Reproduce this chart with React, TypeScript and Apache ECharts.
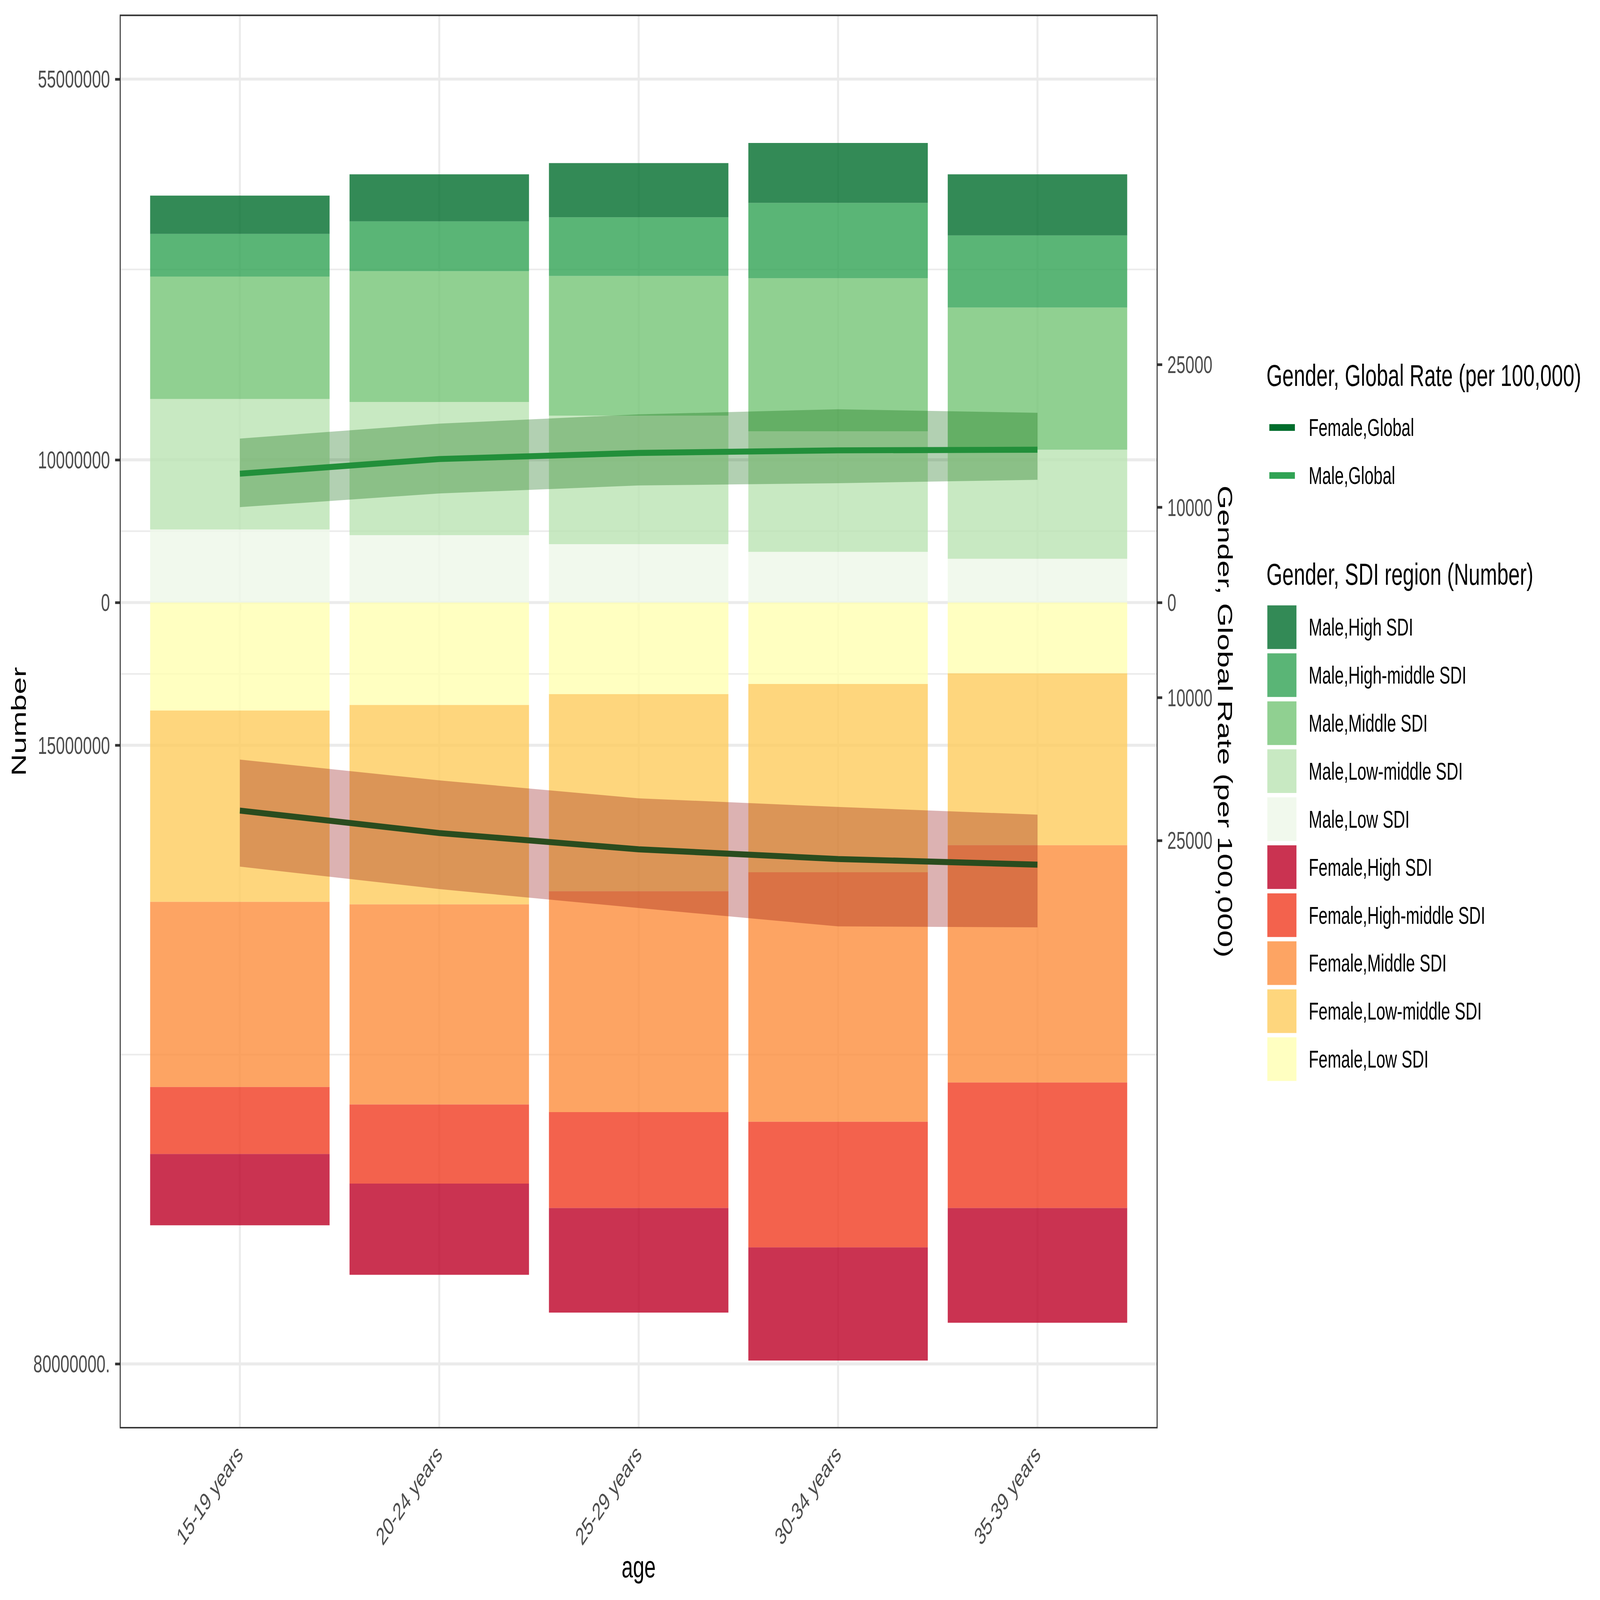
import React, { useEffect, useRef } from 'react';
import * as echarts from 'echarts';

// ---------- data ----------
const AGE_GROUPS = ['15-19 years', '20-24 years', '25-29 years', '30-34 years', '35-39 years'];

// Number of cases, in millions (males drawn upward, females downward)
const MALE_LOW = [7.68, 7.08, 6.14, 5.33, 4.6];
const MALE_LOW_MIDDLE = [13.7, 14.0, 13.5, 12.67, 11.46];
const MALE_MIDDLE = [12.87, 13.74, 14.67, 16.08, 14.94];
const MALE_HIGH_MIDDLE = [4.49, 5.23, 6.17, 7.91, 7.57];
const MALE_HIGH = [4.02, 4.95, 5.69, 6.3, 6.43];

const FEMALE_LOW = [11.35, 10.76, 9.63, 8.56, 7.44];
const FEMALE_LOW_MIDDLE = [20.1, 20.96, 20.7, 19.78, 18.06];
const FEMALE_MIDDLE = [19.46, 21.02, 23.21, 26.22, 24.93];
const FEMALE_HIGH_MIDDLE = [7.03, 8.31, 10.08, 13.19, 13.19];
const FEMALE_HIGH = [7.5, 9.59, 10.99, 11.9, 12.06];

// Global rate per 100,000 with uncertainty bounds
const MALE_RATE = [13540, 15080, 15720, 15990, 16060];
const MALE_RATE_LOWER = [10020, 11460, 12300, 12540, 12900];
const MALE_RATE_UPPER = [17230, 18800, 19770, 20310, 19940];
const FEMALE_RATE = [21860, 24220, 25930, 26950, 27540];
const FEMALE_RATE_LOWER = [16500, 18690, 20570, 21480, 22290];
const FEMALE_RATE_UPPER = [27750, 30110, 32100, 34030, 34130];

// secondary axis: a rate of 1000 per 100,000 sits at 1 million on the primary axis
const RATE_SCALE = 1000;

// axis ticks
const LEFT_TICK_VALUES = [55, 15, 0, -15, -80];
const LEFT_TICK_LABELS = ['55000000', '10000000', '0', '15000000', '80000000.'];
const LEFT_MINOR_VALUES = [35, 7.5, -7.5, -47.5];
const RIGHT_TICK_VALUES = [25, 10, 0, -10, -25];
const RIGHT_TICK_LABELS = ['25000', '10000', '0', '10000', '25000'];
const Y_MIN = -86.7;
const Y_MAX = 61.7;

const SDI_LEGEND = [
  'Male,High SDI',
  'Male,High-middle SDI',
  'Male,Middle SDI',
  'Male,Low-middle SDI',
  'Male,Low SDI',
  'Female,High SDI',
  'Female,High-middle SDI',
  'Female,Middle SDI',
  'Female,Low-middle SDI',
  'Female,Low SDI',
];
const RATE_LEGEND = ['Female,Global', 'Male,Global'];

const FONT = 'Liberation Sans';
const W = 7200;
const H = 4800;
const EXPAND = 0.1; // extra part of a band beyond the category axis ends (ggplot 0.6 expansion)

function buildOption() {
  const barSeries = (name: string, values: number[], sign: number, color: string) => ({
    name,
    type: 'bar',
    stack: 'sdi',
    barCategoryGap: '10%',
    z: 2,
    itemStyle: { color },
    emphasis: { disabled: true },
    data: values.map((v) => sign * v),
  });

  const hGrid = (values: number[], width: number) => ({
    type: 'custom',
    silent: true,
    z: 1,
    data: values.map((v) => [AGE_GROUPS[0], v]),
    encode: { x: 0, y: 1 },
    renderItem: (params: any, api: any) => {
      const cs = params.coordSys;
      const ext = api.size([1, 0])[0] * EXPAND;
      const y = api.coord([AGE_GROUPS[0], api.value(1)])[1];
      return {
        type: 'line',
        shape: { x1: cs.x - ext, y1: y, x2: cs.x + cs.width + ext, y2: y },
        style: { stroke: '#EBEBEB', lineWidth: width },
      };
    },
  });

  const vGrid = {
    type: 'custom',
    silent: true,
    z: 1,
    data: AGE_GROUPS.map((c) => [c, 0]),
    encode: { x: 0, y: 1 },
    renderItem: (params: any, api: any) => {
      const cs = params.coordSys;
      const x = api.coord([api.value(0), 0])[0];
      return {
        type: 'line',
        shape: { x1: x, y1: cs.y, x2: x, y2: cs.y + cs.height },
        style: { stroke: '#EBEBEB', lineWidth: 9 },
      };
    },
  };

  const panelBorder = {
    type: 'custom',
    silent: true,
    z: 20,
    data: [[AGE_GROUPS[0], 0]],
    encode: { x: 0, y: 1 },
    renderItem: (params: any, api: any) => {
      const cs = params.coordSys;
      const ext = api.size([1, 0])[0] * EXPAND;
      return {
        type: 'rect',
        shape: { x: cs.x - ext, y: cs.y, width: cs.width + 2 * ext, height: cs.height },
        style: { fill: 'none', stroke: '#333333', lineWidth: 4.5 },
      };
    },
  };

  const ribbon = (stack: string, nearZero: number[], farFromZero: number[], sign: number, color: string) => {
    const lowerPlot = nearZero.map((v, i) => Math.min(sign * v, sign * farFromZero[i]) / RATE_SCALE);
    const upperPlot = nearZero.map((v, i) => Math.max(sign * v, sign * farFromZero[i]) / RATE_SCALE);
    const common = {
      type: 'line',
      stack,
      stackStrategy: 'all',
      z: 4,
      silent: true,
      symbol: 'none',
      showSymbol: false,
      lineStyle: { opacity: 0, width: 0 },
      emphasis: { disabled: true },
    };
    return [
      { ...common, data: lowerPlot },
      { ...common, areaStyle: { color, opacity: 1 }, data: upperPlot.map((v, i) => v - lowerPlot[i]) },
    ];
  };

  const rateLine = (name: string, values: number[], sign: number, color: string) => ({
    name,
    type: 'line',
    z: 3,
    symbol: 'none',
    showSymbol: false,
    color,
    lineStyle: { color, width: 18 },
    emphasis: { disabled: true },
    data: values.map((v) => (sign * v) / RATE_SCALE),
  });

  const tickLabelStyle = { fontSize: 73, color: '#4D4D4D', fontFamily: FONT };
  const axisTitleStyle = { fontSize: 92, color: '#000000', fontFamily: FONT };
  const tickStyle = { show: true, length: 23, lineStyle: { color: '#333333', width: 8 } };

  const plotLeft = 541;
  const plotRight = 5207;
  const band = (plotRight - plotLeft) / (AGE_GROUPS.length + 2 * EXPAND);
  const ext = band * EXPAND;

  return {
    animation: false,
    backgroundColor: '#FFFFFF',
    textStyle: { fontFamily: FONT },
    grid: {
      left: plotLeft + ext,
      right: W - plotRight + ext,
      top: 46,
      bottom: H - 4283,
      containLabel: false,
      outerBoundsMode: 'none',
    },
    xAxis: {
      type: 'category',
      data: AGE_GROUPS,
      boundaryGap: true,
      name: 'age',
      nameLocation: 'middle',
      nameGap: 363,
      nameTextStyle: axisTitleStyle,
      axisLine: { show: false },
      splitLine: { show: false },
      axisTick: { ...tickStyle, alignWithLabel: true },
      axisLabel: { ...tickLabelStyle, rotate: 45, margin: 66, interval: 0 },
    },
    yAxis: [
      {
        type: 'value',
        min: Y_MIN,
        max: Y_MAX,
        position: 'left',
        offset: ext,
        name: 'Number',
        nameLocation: 'middle',
        nameGap: 410,
        nameTextStyle: axisTitleStyle,
        axisLine: { show: false },
        splitLine: { show: false },
        axisTick: { ...tickStyle, customValues: LEFT_TICK_VALUES },
        axisLabel: {
          ...tickLabelStyle,
          margin: 46,
          customValues: LEFT_TICK_VALUES,
          formatter: (v: number) => LEFT_TICK_LABELS[LEFT_TICK_VALUES.indexOf(v)] ?? '',
        },
      },
      {
        type: 'value',
        min: Y_MIN,
        max: Y_MAX,
        position: 'right',
        offset: ext,
        name: 'Gender, Global Rate (per 100,000)',
        nameLocation: 'middle',
        nameRotate: -90,
        nameGap: 250,
        nameTextStyle: axisTitleStyle,
        axisLine: { show: false },
        splitLine: { show: false },
        axisTick: { ...tickStyle, customValues: RIGHT_TICK_VALUES },
        axisLabel: {
          ...tickLabelStyle,
          margin: 46,
          customValues: RIGHT_TICK_VALUES,
          formatter: (v: number) => RIGHT_TICK_LABELS[RIGHT_TICK_VALUES.indexOf(v)] ?? '',
        },
      },
    ],
    legend: [
      {
        data: RATE_LEGEND,
        orient: 'vertical',
        left: 5712,
        top: 1246,
        padding: 0,
        itemWidth: 115,
        itemHeight: 20,
        itemGap: 71,
        icon: 'rect',
        selectedMode: false,
        itemStyle: { borderWidth: 0 },
        textStyle: {
          fontSize: 73,
          color: '#000000',
          fontFamily: FONT,
          lineHeight: 73,
          padding: [0, 0, 0, 57],
        },
      },
      {
        data: SDI_LEGEND,
        orient: 'vertical',
        left: 5703,
        top: 1816,
        padding: 0,
        itemWidth: 131,
        itemHeight: 131,
        itemGap: 13,
        icon: 'rect',
        selectedMode: false,
        itemStyle: { borderWidth: 0 },
        textStyle: {
          fontSize: 73,
          color: '#000000',
          fontFamily: FONT,
          lineHeight: 131,
          padding: [0, 0, 0, 50],
        },
      },
    ],
    graphic: [
      {
        type: 'text',
        x: 5699,
        y: 1126,
        silent: true,
        style: {
          text: 'Gender, Global Rate (per 100,000)',
          fill: '#000000',
          fontSize: 92,
          fontFamily: FONT,
          align: 'left',
          verticalAlign: 'middle',
        },
      },
      {
        type: 'text',
        x: 5699,
        y: 1723,
        silent: true,
        style: {
          text: 'Gender, SDI region (Number)',
          fill: '#000000',
          fontSize: 92,
          fontFamily: FONT,
          align: 'left',
          verticalAlign: 'middle',
        },
      },
    ],
    series: [
      hGrid(LEFT_MINOR_VALUES, 4.5),
      hGrid(LEFT_TICK_VALUES, 9),
      vGrid,
      barSeries('Male,Low SDI', MALE_LOW, 1, 'rgba(237,248,233,0.8)'),
      barSeries('Male,Low-middle SDI', MALE_LOW_MIDDLE, 1, 'rgba(186,228,179,0.8)'),
      barSeries('Male,Middle SDI', MALE_MIDDLE, 1, 'rgba(116,196,118,0.8)'),
      barSeries('Male,High-middle SDI', MALE_HIGH_MIDDLE, 1, 'rgba(49,163,84,0.8)'),
      barSeries('Male,High SDI', MALE_HIGH, 1, 'rgba(0,109,44,0.8)'),
      barSeries('Female,Low SDI', FEMALE_LOW, -1, 'rgba(255,255,178,0.8)'),
      barSeries('Female,Low-middle SDI', FEMALE_LOW_MIDDLE, -1, 'rgba(254,204,92,0.8)'),
      barSeries('Female,Middle SDI', FEMALE_MIDDLE, -1, 'rgba(253,141,60,0.8)'),
      barSeries('Female,High-middle SDI', FEMALE_HIGH_MIDDLE, -1, 'rgba(240,59,32,0.8)'),
      barSeries('Female,High SDI', FEMALE_HIGH, -1, 'rgba(189,0,38,0.8)'),
      rateLine('Female,Global', FEMALE_RATE, -1, '#006D2C'),
      rateLine('Male,Global', MALE_RATE, 1, '#31A354'),
      ...ribbon('maleRibbon', MALE_RATE_LOWER, MALE_RATE_UPPER, 1, 'rgba(0,100,0,0.3)'),
      ...ribbon('femaleRibbon', FEMALE_RATE_LOWER, FEMALE_RATE_UPPER, -1, 'rgba(139,0,0,0.3)'),
      panelBorder,
    ],
  };
}

export default function App() {
  const ref = useRef<HTMLDivElement>(null);
  // the chart is laid out on a 7200x4800 canvas and fitted to the window
  const vw = window.innerWidth || W;
  const vh = window.innerHeight || H;
  const sx = vw / W;
  const sy = vh / H;
  useEffect(() => {
    document.body.style.margin = '0';
    document.body.style.overflow = 'hidden';
    const chart = echarts.init(ref.current as HTMLDivElement, null, {
      renderer: 'svg',
      width: W,
      height: H,
    });
    chart.setOption(buildOption() as any);
    return () => chart.dispose();
  }, []);
  return (
    <div style={{ width: vw, height: vh, overflow: 'hidden', position: 'relative' }}>
      <div
        ref={ref}
        style={{
          width: W,
          height: H,
          position: 'absolute',
          left: 0,
          top: 0,
          transform: `scale(${sx}, ${sy})`,
          transformOrigin: '0 0',
        }}
      />
    </div>
  );
}
